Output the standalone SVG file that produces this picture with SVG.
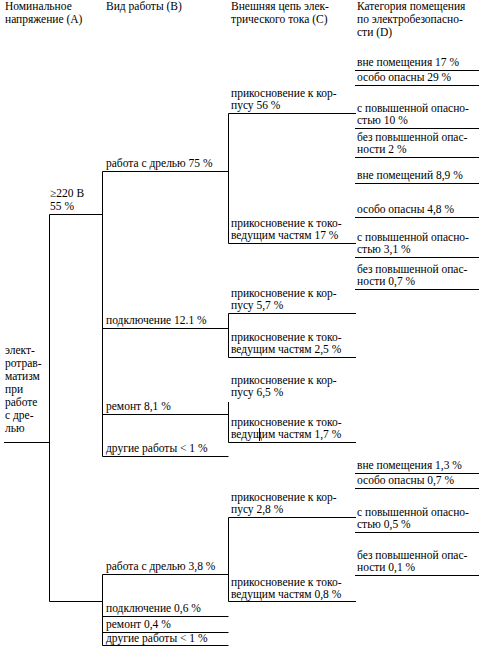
<svg xmlns="http://www.w3.org/2000/svg" width="485" height="655" viewBox="0 0 485 655">
<style>
text{font-family:"Liberation Serif","Times New Roman",serif;font-size:11.5px;fill:#000}
.c path{stroke:#000;stroke-width:1;fill:none}
</style>
<rect width="485" height="655" fill="#fff"/>
<g id="headers">
<text x="5" y="10">Номинальное</text><text x="5" y="23">напряжение (А)</text>
<text x="106" y="10">Вид работы (В)</text>
<text x="231" y="10">Внешняя цепь элек-</text><text x="231" y="23">трического тока (С)</text>
<text x="357" y="10">Категория помещения</text><text x="357" y="23">по электробезопасно-</text><text x="357" y="36">сти (D)</text>
</g>
<g class="c" id="connectors">
<path d="M4,442.5H49.5M49.5,214.5V601.5M49.5,214.5H102.5M49.5,601.5H102.5"/>
<path d="M102.5,171.5V456.5M102.5,171.5H228.5M102.5,328.5H228.5M102.5,414.5H228.5M102.5,456.5H228.5"/>
<path d="M102.5,574.5V645.5M102.5,574.5H228.5M102.5,616.5H228.5M102.5,632.5H228.5M102.5,645.5H228.5"/>
<path d="M228.5,113.5V243.5M228.5,313.5V357.5M228.5,402V442.5M228.5,517.5V601.5"/>
<path d="M228.5,113.5H356M228.5,243.5H356M228.5,313.5H356M228.5,357.5H356M228.5,442.5H356M228.5,517.5H356M228.5,601.5H356"/>
<path d="M355,70.5H479M355,85.5H479M355,128.5H479M355,157.5H479M355,183.5H479M355,217.5H479M355,257.5H479M355,289.5H479M355,473.5H479M355,488.5H479M355,532.5H479M355,575.5H479"/>
<path d="M259.5,428V441"/>
</g>
<g id="root"><text x="5" y="354">элект-</text><text x="5" y="367">ротрав-</text><text x="5" y="380">матизм</text><text x="5" y="393">при</text><text x="5" y="406">работе</text><text x="5" y="419">с дре-</text><text x="5" y="432">лью</text></g>
<g id="a1"><text x="50" y="197">≥220 В</text><text x="50" y="210">55 %</text></g>
<g id="b1"><text x="106" y="167">работа с дрелью 75 %</text></g>
<g id="b2"><text x="106" y="324">подключение 12.1 %</text></g>
<g id="b3"><text x="106" y="410">ремонт 8,1 %</text></g>
<g id="b4"><text x="106" y="452">другие работы &lt; 1 %</text></g>
<g id="b5"><text x="106" y="570">работа с дрелью 3,8 %</text></g>
<g id="b6"><text x="106" y="612">подключение 0,6 %</text></g>
<g id="b7"><text x="106" y="628">ремонт 0,4 %</text></g>
<g id="b8"><text x="106" y="642">другие работы &lt; 1 %</text></g>
<g id="c1"><text x="231" y="97">прикосновение к кор-</text><text x="231" y="109">пусу 56 %</text></g>
<g id="c2"><text x="231" y="227">прикосновение к токо-</text><text x="231" y="239">ведущим частям 17 %</text></g>
<g id="c3"><text x="231" y="297">прикосновение к кор-</text><text x="231" y="309">пусу 5,7 %</text></g>
<g id="c4"><text x="231" y="341">прикосновение к токо-</text><text x="231" y="353">ведущим частям 2,5 %</text></g>
<g id="c5"><text x="231" y="384">прикосновение к кор-</text><text x="231" y="396">пусу 6,5 %</text></g>
<g id="c6"><text x="231" y="426">прикосновение к токо-</text><text x="231" y="438">ведущим частям 1,7 %</text></g>
<g id="c7"><text x="231" y="501">прикосновение к кор-</text><text x="231" y="513">пусу 2,8 %</text></g>
<g id="c8"><text x="231" y="586">прикосновение к токо-</text><text x="231" y="598">ведущим частям 0,8 %</text></g>
<g id="d1"><text x="357" y="66">вне помещения 17 %</text></g>
<g id="d2"><text x="357" y="81">особо опасны 29 %</text></g>
<g id="d3"><text x="357" y="112">с повышенной опасно-</text><text x="357" y="124">стью 10 %</text></g>
<g id="d4"><text x="357" y="141">без повышенной опас-</text><text x="357" y="153">ности 2 %</text></g>
<g id="d5"><text x="357" y="179">вне помещений 8,9 %</text></g>
<g id="d6"><text x="357" y="213">особо опасны 4,8 %</text></g>
<g id="d7"><text x="357" y="241">с повышенной опасно-</text><text x="357" y="253">стью 3,1 %</text></g>
<g id="d8"><text x="357" y="273">без повышенной опас-</text><text x="357" y="285">ности 0,7 %</text></g>
<g id="d9"><text x="357" y="469">вне помещения 1,3 %</text></g>
<g id="d10"><text x="357" y="484">особо опасны 0,7 %</text></g>
<g id="d11"><text x="357" y="516">с повышенной опасно-</text><text x="357" y="528">стью 0,5 %</text></g>
<g id="d12"><text x="357" y="559">без повышенной опас-</text><text x="357" y="571">ности 0,1 %</text></g>
</svg>
